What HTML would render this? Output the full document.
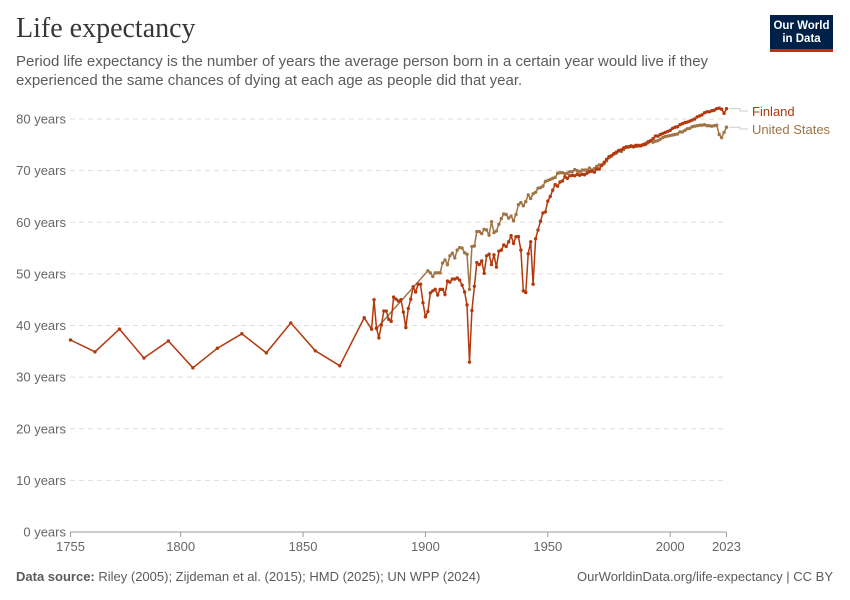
<!DOCTYPE html>
<html><head><meta charset="utf-8"><style>
body{margin:0;background:#fff;font-family:"Liberation Sans",sans-serif;}
#wrap{position:relative;width:850px;height:600px;overflow:hidden;}
.title{position:absolute;left:16px;top:13px;font-family:"Liberation Serif",serif;font-size:28px;color:#373737;}
.sub{position:absolute;left:16px;top:52px;width:720px;font-size:15px;line-height:19px;color:#5b5b5b;}
.logo{position:absolute;left:770px;top:15px;width:63px;height:37px;background:#002147;border-bottom:3px solid #ce261e;box-sizing:border-box;color:#fff;font-size:11.5px;font-weight:bold;text-align:center;line-height:13px;padding-top:5px;}
.foot{position:absolute;top:569px;font-size:13px;color:#5b5b5b;}
</style></head><body><div id="wrap">
<div class="title">Life expectancy</div>
<div class="sub">Period life expectancy is the number of years the average person born in a certain year would live if they experienced the same chances of dying at each age as people did that year.</div>
<div class="logo">Our World<br>in Data</div>
<div class="foot" style="left:16px"><b>Data source:</b> Riley (2005); Zijdeman et al. (2015); HMD (2025); UN WPP (2024)</div>
<div class="foot" style="right:17px">OurWorldinData.org/life-expectancy | CC BY</div>
<svg id="svg" width="850" height="600" style="position:absolute;left:0;top:0"></svg>
</div>
<script>
const yTicks=[0,10,20,30,40,50,60,70,80];
const xTicks=[1755,1800,1850,1900,1950,2000,2023];
const finSparseYears=[1755,1765,1775,1785,1795,1805,1815,1825,1835,1845,1855,1865,1875];
const finSparseVals=[37.2,34.9,39.3,33.7,37.0,31.8,35.6,38.4,34.7,40.5,35.1,32.2,41.5];
const finYearlyStart=1878;
const finYearlyVals=[39.3,45,39.5,37.6,40.1,42.8,42.8,41.2,40.8,45.5,45.1,44.7,45,42.6,39.6,43.3,45.1,47.5,46.5,48,48,44.4,41.7,42.7,46.3,46.7,47,45.9,47,47,46,48.6,48.4,49,49,49.2,48.8,47.8,46.5,
44.0,32.9,42.9,47.6,
52.2,51.8,52.5,50.1,53.5,53.8,51.8,53.7,51.3,54.4,54.6,55.6,55.3,56.2,57.4,55.9,57.2,57.2,54.6,46.7,46.4,53.9,56.2,48,56.8,58.5,
60.2,61.8,62.0,64.1,65.0,66.2,67.3,67.0,67.8,68.0,68.8,68.5,69.0,69.1,69.0,69.3,69.1,69.3,69.2,69.5,69.8,69.9,69.7,70.3,70.3,71.0,71.6,72.2,72.7,72.9,73.3,73.6,73.9,74.0,74.4,74.6,74.6,74.8,74.6,74.9,74.8,74.8,75.0,75.1,75.6,75.8,76.2,76.7,76.7,77.0,77.2,77.4,77.6,77.8,78.2,78.4,78.5,78.9,79.1,79.3,79.4,79.6,79.8,80.0,80.4,80.6,80.8,81.2,81.4,81.4,81.6,81.7,82.0,82.1,81.9,81.1,82.0];
const usSparseYears=[1880];
const usSparseVals=[39.4];
const usYearlyStart=1901;
const usYearlyVals=[50.6,50.2,49.5,50.2,50.2,50.2,52.1,52.7,51.8,53.5,54.0,53.1,54.6,55.1,55.0,54.1,53.8,47.0,55.3,55.4,58.2,58.2,57.8,58.6,
58.5,57.5,60.1,58.0,58.3,59.6,60.7,61.6,61.5,60.8,61.2,60.3,61.5,63.4,63.8,63.2,64.0,65.3,64.6,65.5,65.8,66.6,66.7,67.0,67.9,68.1,68.3,68.5,68.7,69.5,69.6,69.6,69.4,69.5,69.8,69.8,70.2,70.0,69.8,70.1,70.1,70.1,70.5,70.1,70.4,70.8,71.1,71.1,71.3,71.9,72.5,72.8,73.2,73.4,73.8,73.7,74.1,74.5,74.6,74.7,74.7,74.7,74.9,74.9,75.1,75.3,75.4,75.7,75.5,75.7,75.8,76.1,76.4,76.6,76.7,76.8,76.9,77.0,77.1,77.5,77.5,77.8,78.1,78.2,78.5,78.6,78.7,78.8,78.8,78.9,78.7,78.7,78.6,78.7,78.8,77.0,76.4,77.4,78.4];

const NS='http://www.w3.org/2000/svg',svg=document.getElementById('svg');
const x0=70.5,x1=726.5,yr0=1755,yr1=2023,yB=532,yT=119;
const X=y=>x0+(y-yr0)*(x1-x0)/(yr1-yr0);
const Y=v=>yB-v*(yB-yT)/80;
function mk(t,a,p){const e=document.createElementNS(NS,t);for(const k in a)e.setAttribute(k,a[k]);(p||svg).appendChild(e);return e;}
yTicks.forEach(v=>{
 const l=mk('line',{x1:70,x2:726,y1:Y(v),y2:Y(v),stroke:v?'#dddddd':'#999',"stroke-dasharray":v?'5,4':'none'});
 
 
 const t=mk('text',{x:66,y:Y(v)+4.5,"text-anchor":"end","font-size":13,fill:'#666'});t.textContent=v+' years';
 
 
});
xTicks.forEach(v=>{
 const l=mk('line',{x1:X(v),x2:X(v),y1:532,y2:537,stroke:'#999'});
 
 
 const t=mk('text',{x:X(v),y:551,"text-anchor":"middle","font-size":13,fill:'#666'});t.textContent=v;
 
 
});
function series(sy,sv,start,vals,color,name){
 const pts=[];sy.forEach((y,i)=>pts.push([y,sv[i]]));vals.forEach((v,i)=>pts.push([start+i,v]));
 const g=mk('g',{});
 
 
 const p=mk('path',{d:pts.map((q,i)=>(i?'L':'M')+X(q[0]).toFixed(1)+','+Y(q[1]).toFixed(1)).join(''),fill:'none',stroke:color,"stroke-width":1.5},g);
 
 
 pts.forEach(q=>{const c=mk('circle',{cx:X(q[0]),cy:Y(q[1]),r:1.7,fill:color},g);
  
  });
 return pts[pts.length-1];
}
const us=series(usSparseYears,usSparseVals,usYearlyStart,usYearlyVals,'#a07444','united-states');
const fi=series(finSparseYears,finSparseVals,finYearlyStart,finYearlyVals,'#b3380c','finland');
const lf=mk('path',{d:`M${X(fi[0])+3},${Y(fi[1])}H740V111H748`,fill:'none',stroke:'#ccc'});


const lu=mk('path',{d:`M${X(us[0])+3},${Y(us[1])}H740V129H748`,fill:'none',stroke:'#ccc'});


const tf=mk('text',{x:752,y:116,"font-size":13,fill:'#b3380c'});tf.textContent='Finland';


const tu=mk('text',{x:752,y:134,"font-size":13,fill:'#a07444'});tu.textContent='United States';


</script></body></html>
